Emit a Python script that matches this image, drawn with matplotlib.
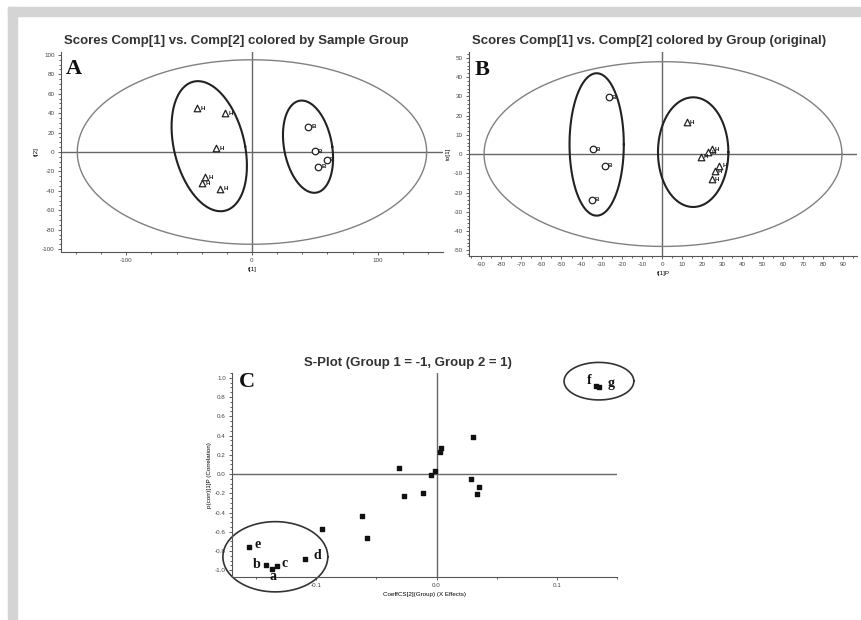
import numpy as np
import matplotlib
matplotlib.use("Agg")
import matplotlib.pyplot as plt
from matplotlib.ticker import MultipleLocator, AutoMinorLocator
from matplotlib.patches import Rectangle

# ---- data ----
# panel A : t[1] / t[2]
a_h_x = [-44, -21.5, -29, -37.5, -40, -25.5]
a_h_y = [45, 40, 4, -26, -32, -38]
a_b_x = [44.6, 50, 59.5, 52.6]
a_b_y = [26, 1, -8, -15]

# panel B : t[1]P / to[1]
b_b_x = [-26.4, -34.3, -28.4, -34.8]
b_b_y = [29.5, 2.6, -6, -23.8]
b_h_x = [12.4, 24.9, 23, 19.4, 28.4, 26.4, 24.9]
b_h_y = [16.6, 2.6, 1, -1.5, -6, -9, -13]

# panel C : S-plot
c_x = [-0.156, -0.142, -0.137, -0.133, -0.1095, -0.095, -0.062, -0.058,
       -0.031, -0.027, -0.011, -0.0044, -0.0014, 0.0025, 0.0039,
       0.030, 0.029, 0.035, 0.034, 0.1325, 0.135]
c_y = [-0.76, -0.95, -0.985, -0.955, -0.88, -0.57, -0.44, -0.67,
       0.06, -0.226, -0.20, -0.014, 0.035, 0.226, 0.274,
       0.38, -0.055, -0.13, -0.21, 0.91, 0.90]
c_names = ["e", "b", "a", "c", "d", "f", "g"]
c_name_x = [-0.151, -0.153, -0.139, -0.129, -0.102, 0.125, 0.142]
c_name_y = [-0.73, -0.94, -1.06, -0.93, -0.85, 0.97, 0.94]

# confidence ellipses: cx, cy, ax, bx, by
a_ellipses = [(0, 0, 139, 0, 95), (-34, 6, 28.6, -9, 67), (44.6, 5.5, 19.3, -5, 47.5)]
b_ellipses = [(0.5, 0, 89, 0, 48), (-32.5, 5, 13.5, 0, 37), (15.5, 1, 17.5, 0, 28.5)]
c_ellipses = [(-0.134, -0.86, 0.0436, 0, 0.365), (0.135, 0.965, 0.029, 0, 0.195)]


def ellipse(ax, e, color, lw, clip=True):
    t = np.linspace(0, 2 * np.pi, 300)
    cx, cy, rx, bx, by = e
    ax.plot(cx + rx * np.cos(t) + bx * np.sin(t), cy + by * np.sin(t),
            color=color, lw=lw, clip_on=clip, zorder=2)


def style(ax):
    for s in ["top", "right"]:
        ax.spines[s].set_visible(False)
    for s in ["left", "bottom"]:
        ax.spines[s].set_color("#555555")
        ax.spines[s].set_linewidth(0.8)
    ax.tick_params(which="both", direction="out", labelsize=4.5, colors="#444444",
                   length=2.5, width=0.6, pad=2)
    ax.tick_params(which="minor", length=1.5)
    ax.xaxis.set_minor_locator(AutoMinorLocator())
    ax.yaxis.set_minor_locator(AutoMinorLocator())
    ax.axhline(0, color="#666666", lw=1.0, zorder=1)
    ax.axvline(0, color="#666666", lw=1.0, zorder=1)
    ax.patch.set_alpha(0)


def labelled(ax, xs, ys, marker, txt, dx, dy):
    ax.scatter(xs, ys, marker=marker, s=22, facecolors="white", edgecolors="#222222",
               linewidths=0.9, zorder=3)
    for x, y in zip(xs, ys):
        ax.text(x + dx, y + dy, txt, fontsize=4.5, fontweight="bold", color="#222222",
                ha="left", va="center", zorder=4)


plt.rcParams['font.family'] = ['Liberation Sans', 'DejaVu Sans']
plt.rcParams['axes.unicode_minus'] = False
fig = plt.figure(figsize=(8.61, 6.2), dpi=100)
fig.patches.append(Rectangle((8 / 861, 1 - 16 / 620), 1, 9 / 620, transform=fig.transFigure,
                             color="#d4d4d4", zorder=0))
fig.patches.append(Rectangle((8 / 861, 0), 9 / 861, 1 - 7 / 620, transform=fig.transFigure,
                             color="#d4d4d4", zorder=0))

title_kw = dict(fontsize=9.5, fontweight="bold", color="#333333")
letter_kw = dict(fontsize=16, fontweight="bold", family="Liberation Serif", color="#111111")

# ---- A ----
axA = fig.add_axes([0.0708, 0.5935, 0.4437, 0.3226])
style(axA)
axA.set_xlim(-152, 152)
axA.set_ylim(-103, 103)
axA.xaxis.set_major_locator(MultipleLocator(100))
axA.yaxis.set_major_locator(MultipleLocator(20))
for i, e in enumerate(a_ellipses):
    ellipse(axA, e, "#808080" if i == 0 else "#222222", 1.0 if i == 0 else 1.5)
labelled(axA, a_h_x, a_h_y, "^", "H", 3, 0)
labelled(axA, a_b_x, a_b_y, "o", "B", 2.5, 0)
axA.set_title("Scores Comp[1] vs. Comp[2] colored by Sample Group", x=0.458, pad=6, **title_kw)
axA.set_xlabel("t[1]", fontsize=4.5, labelpad=3)
axA.set_ylabel("t[2]", fontsize=4.5, labelpad=2)
axA.text(0.034, 0.915, "A", transform=axA.transAxes, ha="center", va="center", **letter_kw)

# ---- B ----
axB = fig.add_axes([0.5447, 0.587, 0.4507, 0.329])
style(axB)
axB.set_xlim(-96, 97)
axB.set_ylim(-53, 53)
axB.set_xticks(np.arange(-90, 91, 10))
axB.yaxis.set_major_locator(MultipleLocator(10))
axB.xaxis.set_minor_locator(AutoMinorLocator(2))
for i, e in enumerate(b_ellipses):
    ellipse(axB, e, "#808080" if i == 0 else "#222222", 1.0 if i == 0 else 1.5)
labelled(axB, b_b_x, b_b_y, "o", "B", 1.3, 0)
labelled(axB, b_h_x, b_h_y, "^", "H", 1.5, 0)
axB.set_title("Scores Comp[1] vs. Comp[2] colored by Group (original)", x=0.464, pad=6, **title_kw)
axB.set_xlabel("t[1]P", fontsize=4.5, labelpad=3)
axB.set_ylabel("to[1]", fontsize=4.5, labelpad=2)
axB.text(0.0335, 0.912, "B", transform=axB.transAxes, ha="center", va="center", **letter_kw)

# ---- C ----
axC = fig.add_axes([0.2695, 0.0694, 0.4471, 0.329])
style(axC)
axC.set_xlim(-0.17, 0.15)
axC.set_ylim(-1.07, 1.05)
axC.set_xticks([-0.1, 0.0, 0.1])
axC.set_xticklabels(["-0.1", "0.0", "0.1"])
axC.xaxis.set_minor_locator(AutoMinorLocator(2))
axC.yaxis.set_major_locator(MultipleLocator(0.2))
axC.yaxis.set_major_formatter(plt.FormatStrFormatter("%.1f"))
axC.scatter(c_x, c_y, marker="s", s=9, color="#111111", zorder=3)
for e in c_ellipses:
    ellipse(axC, e, "#333333", 1.2, clip=False)
for n, x, y in zip(c_names, c_name_x, c_name_y):
    axC.text(x, y, n, fontsize=10, fontweight="bold", family="Liberation Serif",
             ha="left", va="center", color="#111111", zorder=4)
axC.set_title("S-Plot (Group 1 = -1, Group 2 = 1)", x=0.457, pad=5, **title_kw)
axC.set_xlabel("CoeffCS[2](Group) (X Effects)", fontsize=4.5, labelpad=3)
axC.set_ylabel("p(corr)[1]P (Correlation)", fontsize=4.5, labelpad=2)
axC.text(0.039, 0.956, "C", transform=axC.transAxes, ha="center", va="center", **letter_kw)

fig.savefig("out.png", dpi=100)
